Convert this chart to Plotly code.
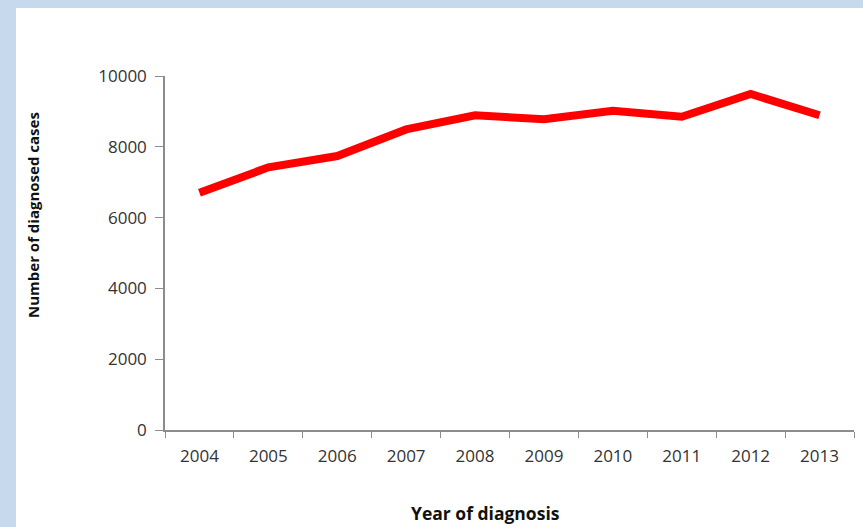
import plotly.graph_objects as go

years = ["2004", "2005", "2006", "2007", "2008", "2009", "2010", "2011", "2012", "2013"]
cases = [6700, 7420, 7740, 8490, 8890, 8780, 9020, 8850, 9490, 8890]

y_tickvals = [0, 2000, 4000, 6000, 8000, 10000]
y_ticktext = ["0", "2000", "4000", "6000", "8000", "10000"]

W, H = 863, 527
L, R, T, B = 165, 9, 76, 97
pw = W - L - R
ph = H - T - B

def px_x(x):
    return (x - L) / pw

def px_y(y):
    return (H - B - y) / ph

fig = go.Figure()
fig.add_trace(go.Scatter(
    x=years, y=cases, mode="lines",
    line=dict(color="#ff0000", width=8),
    hoverinfo="x+y", showlegend=False,
))

fig.update_layout(
    width=W, height=H,
    margin=dict(l=L, r=R, t=T, b=B),
    paper_bgcolor="#c6d9ed",
    plot_bgcolor="white",
    font=dict(family="Open Sans", color="#333333"),
    shapes=[dict(type="rect", xref="paper", yref="paper",
                 x0=px_x(16), x1=px_x(W + 5), y0=px_y(H + 5), y1=px_y(8),
                 fillcolor="white", line=dict(width=0), layer="below")],
    annotations=[
        dict(text="<b>Number of diagnosed cases</b>", xref="paper", yref="paper",
             x=px_x(33), y=px_y(215), textangle=-90, showarrow=False,
             xanchor="center", yanchor="middle",
             font=dict(family="Open Sans", size=15, color="#111111")),
        dict(text="<b>Year of diagnosis</b>", xref="paper", yref="paper",
             x=px_x(485), y=px_y(513), showarrow=False,
             xanchor="center", yanchor="middle",
             font=dict(family="Open Sans", size=17.5, color="#111111")),
    ],
)

fig.update_xaxes(
    type="category", range=[-0.5, 9.5],
    tickson="boundaries", ticks="outside", ticklen=6, tickwidth=1, tickcolor="#8c8c8c",
    showline=True, linecolor="#8c8c8c", linewidth=1.5,
    showgrid=False, zeroline=False, ticklabelstandoff=10,
    tickfont=dict(size=17, color="#333333"),
)
fig.update_yaxes(
    range=[0, 10000], tickvals=y_tickvals, ticktext=y_ticktext,
    ticks="outside", ticklen=8, tickwidth=1, tickcolor="#8c8c8c",
    showline=True, linecolor="#8c8c8c", linewidth=1.5,
    showgrid=False, zeroline=False, ticklabelstandoff=5,
    tickfont=dict(size=17, color="#333333"),
)

fig.write_html("out.html")
